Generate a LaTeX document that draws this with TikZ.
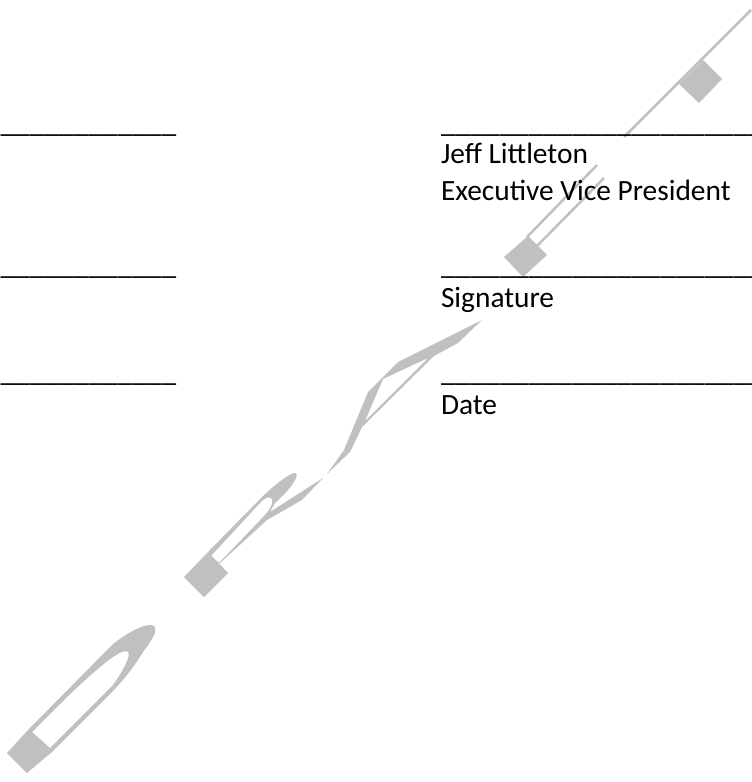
\documentclass[tikz,border=0pt]{standalone}
\usepackage{fontspec}
\setmainfont{Carlito}
\definecolor{wm}{HTML}{C0C0C0}
\tikzset{
  px/.style={x=0.75pt,y=-0.75pt},
  wmfill/.style={fill=wm,draw=none,even odd rule},
  wmline/.style={draw=wm,line width=1.9pt},
  txt/.style={anchor=base west,inner sep=0pt,outer sep=0pt,font=\fontsize{22.05pt}{26pt}\selectfont,text=black}
}
\begin{document}
\begin{tikzpicture}[px]
\useasboundingbox (0,0) rectangle (751,782);
% watermark
\draw[wmline] (751,10) -- (624,137);
\fill[wmfill] (703,60) -- (722,79) -- (699,103) -- (679,84) -- cycle;
\fill[wmfill] (504,257) -- (523,277) -- (547,255) -- (528,236) -- cycle;
\draw[wmline] (527,237) -- (597,165);
\draw[wmline] (537,246) -- (604,178);
\fill[wmfill] (327,474) -- (344,450) -- (368,392) -- (382,378) -- (398,362) -- (482,320)
  -- (458,343) -- (434,356) -- (362,427) -- (350,452) -- cycle
  (383,379) -- (428,358) -- (365,421) -- cycle;
\fill[wmfill] (184,577) -- (204,597) -- (228,573) -- (208,552) -- cycle;
\fill[wmfill] (208,552) -- (262,497)
  .. controls (280,480) and (292,472) .. (296,473)
  .. controls (299,476) and (292,488) .. (275,503)
  -- (270,512) -- (323,478) -- (302,500) -- (267,520) -- (219,564) -- cycle
  (211,556) -- (219,563) -- (265,515) .. controls (272,507) and (274,500) .. (271,498)
  .. controls (268,496) and (264,499) .. (260,503) -- cycle;
\fill[wmfill] (7,753) -- (27,773) -- (52,752) -- (112,692)
  .. controls (128,675) and (135,665) .. (143,652)
  .. controls (152,640) and (157,632) .. (155,627)
  .. controls (152,622) and (136,626) .. (113,644)
  -- (28,730) -- cycle
  (32,732) -- (50,748) -- (113,685)
  .. controls (125,668) and (131,655) .. (128,652)
  .. controls (124,648) and (110,656) .. (67,697) -- cycle;
% underscores and text
\foreach \nm/\yy in {a/132,b/274,c/381}{
  \node[txt] (l\nm) at (0.5,\yy) {\_\_\_\_\_\_\_\_\_\_\_\_};
  \node[txt] (r\nm) at (441,\yy) {\_\_\_\_\_\_\_\_\_\_\_\_\_\_\_\_\_\_\_\_\_\_};
}
\node[txt] (jeff) at (441,163) {Jeff Littleton};
\node[txt] (evp) at (441,200) {Executive Vice President};
\node[txt] (sig) at (441,307) {Signature};
\node[txt] (date) at (441,414) {Date};
\end{tikzpicture}
\end{document}
